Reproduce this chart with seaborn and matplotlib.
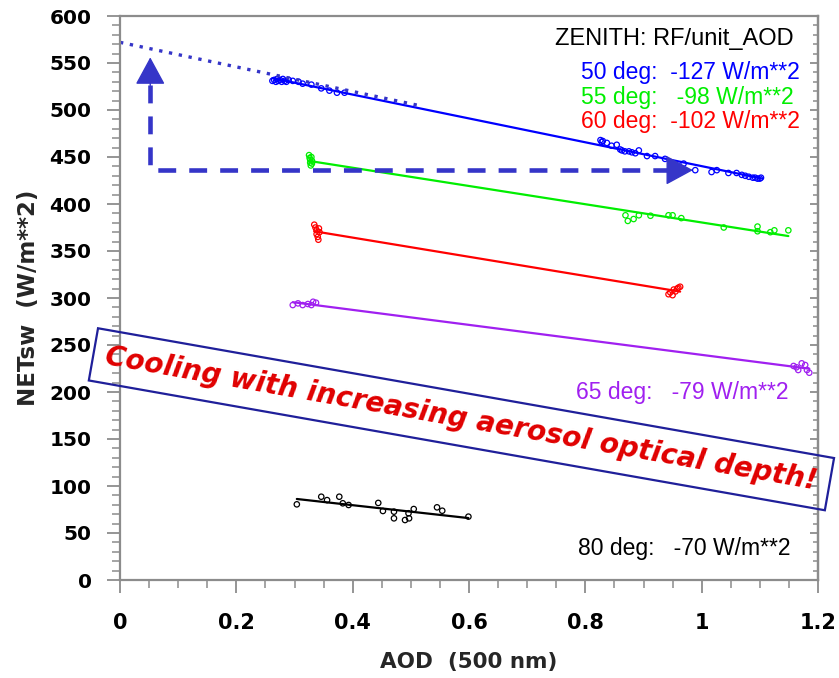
import numpy as np
import matplotlib
matplotlib.use("Agg")
import matplotlib.pyplot as plt
import seaborn as sns
from matplotlib.ticker import MultipleLocator, NullFormatter

# ---------------- data ----------------
blue_x = [0.262, 0.265, 0.268, 0.270, 0.272, 0.275, 0.278, 0.280, 0.283, 0.286, 0.290,
          0.297, 0.307, 0.314, 0.329, 0.346, 0.360, 0.373, 0.386,
          0.826, 0.828, 0.830, 0.837, 0.845, 0.854, 0.860, 0.863, 0.868, 0.875, 0.880,
          0.886, 0.892, 0.906, 0.920, 0.937, 0.969, 0.989, 1.017, 1.026, 1.046, 1.060,
          1.069, 1.075, 1.081, 1.088, 1.092, 1.096, 1.100, 1.102]
blue_y = [531, 532, 530, 533, 531, 532, 530, 533, 531, 530, 532,
          531, 530, 528, 527, 523, 520.6, 518.4, 518.4,
          468, 466, 467, 465, 462, 463, 458, 457, 456, 456, 455,
          454, 457, 451, 451, 448, 443, 436, 434, 436, 433, 433,
          431, 430, 429, 428, 428, 427, 427, 428]

green_x = [0.325, 0.326, 0.327, 0.327, 0.328, 0.329, 0.330, 0.330,
           0.869, 0.873, 0.883, 0.892, 0.912, 0.943, 0.950, 0.965, 1.038,
           1.096, 1.096, 1.118, 1.125, 1.149]
green_y = [452, 449, 447, 444, 441, 450, 446, 443,
           388, 382, 384, 388, 387.5, 388, 388, 385, 375,
           376, 371, 370, 372, 372]

red_x = [0.334, 0.336, 0.338, 0.338, 0.340, 0.341, 0.343, 0.342,
         0.943, 0.946, 0.950, 0.952, 0.955, 0.958, 0.960, 0.963]
red_y = [378, 375, 372, 368, 365, 362, 370, 374,
         304, 306, 303, 309, 307, 310, 311, 312]

purple_x = [0.297, 0.306, 0.314, 0.323, 0.329, 0.332, 0.337,
            1.158, 1.163, 1.172, 1.178, 1.181, 1.185, 1.166]
purple_y = [292.5, 294.3, 292.5, 293.6, 292.5, 296, 295,
            227.7, 226.3, 230.5, 228.7, 223.4, 220.5, 223.4]

black_x = [0.304, 0.346, 0.356, 0.377, 0.383, 0.393, 0.444, 0.452, 0.471, 0.471,
           0.490, 0.496, 0.497, 0.505, 0.545, 0.554, 0.599]
black_y = [80.5, 88.6, 85.0, 88.6, 81.6, 79.8, 82.0, 73.4, 72.7, 65.6,
           63.8, 71.0, 65.6, 75.5, 77.3, 73.7, 67.4]

# extrapolation of the 50 deg fit to AOD = 0
extrap_x = [0.0, 0.52]
extrap_y = [572, 504]

# arrow corner / ends (AOD, NETsw)
arrow_x = [0.052, 0.052, 0.950]
arrow_y = [527, 436, 436]
arrow_tip_up = (0.052, 556)
arrow_tip_right = (0.985, 436)

labels = ["50 deg:  -127 W/m**2", "55 deg:   -98 W/m**2", "60 deg:  -102 W/m**2",
          "65 deg:   -79 W/m**2", "80 deg:   -70 W/m**2"]
label_pos = [(1.168, 540), (1.158, 513), (1.168, 488), (1.150, 199), (1.153, 34)]
colors = ["#0000ff", "#00ee00", "#ff0000", "#a020f0", "#000000"]

x_ticks = [0, 0.2, 0.4, 0.6, 0.8, 1.0, 1.2]
x_ticklabels = ["0", "0.2", "0.4", "0.6", "0.8", "1", "1.2"]

# ---------------- figure ----------------
sns.set_theme(style="ticks")
plt.rcParams["font.family"] = ["Liberation Sans", "DejaVu Sans"]
spine_c = "#8c8c8c"
plt.rcParams.update({
    "xtick.direction": "out", "ytick.direction": "out",
    "xtick.major.size": 9.5, "ytick.major.size": 9.5,
    "xtick.minor.size": 5.5, "ytick.minor.size": 5.5,
    "xtick.major.width": 1.3, "ytick.major.width": 1.3,
    "xtick.minor.width": 1.1, "ytick.minor.width": 1.1,
    "xtick.color": spine_c, "ytick.color": spine_c,
    "xtick.labelcolor": "black", "ytick.labelcolor": "black",
    "xtick.minor.visible": True, "ytick.minor.visible": True,
    "xtick.major.pad": 14, "ytick.major.pad": 11,
    "axes.edgecolor": spine_c, "axes.linewidth": 1.6,
})

W, H = 839, 678
fig = plt.figure(figsize=(W / 100, H / 100), dpi=100)
ax = fig.add_axes([120 / W, 1 - 580 / H, 698 / W, 564 / H])

series = [(blue_x, blue_y), (green_x, green_y), (red_x, red_y),
          (purple_x, purple_y), (black_x, black_y)]
for (xs, ys), c in zip(series, colors):
    sns.regplot(x=np.array(xs), y=np.array(ys), ax=ax, scatter=False, ci=None,
                truncate=True, color=c, line_kws=dict(lw=1.6))
    sns.scatterplot(x=xs, y=ys, ax=ax, s=15, color=c, linewidth=0.9, legend=False)
    coll = ax.collections[-1]
    coll.set_facecolor("none")
    coll.set_edgecolor(c)

arrow_c = "#3535c8"
sns.lineplot(x=extrap_x, y=extrap_y, ax=ax, color=arrow_c, lw=2.4,
             linestyle=(0, (1.0, 2.0)))
ax.plot(arrow_x, arrow_y, color=arrow_c, lw=3.3, linestyle=(0, (3.9, 2.85)),
        solid_joinstyle="miter", dash_joinstyle="miter")
for tip, base in [(arrow_tip_up, (0.052, 526)), (arrow_tip_right, (0.944, 436))]:
    ax.annotate("", xy=tip, xytext=base,
                arrowprops=dict(arrowstyle="-|>,head_length=1.75,head_width=0.95",
                                mutation_scale=10, color=arrow_c, lw=1,
                                shrinkA=0, shrinkB=0))

ax.set_xlim(0, 1.2)
ax.set_ylim(0, 600)
ax.set_xticks(x_ticks, x_ticklabels)
ax.xaxis.set_minor_locator(MultipleLocator(0.05))
ax.yaxis.set_major_locator(MultipleLocator(50))
ax.yaxis.set_minor_locator(MultipleLocator(10))
ax.tick_params(top=False, right=False, which="both")

for lab in ax.get_xticklabels():
    lab.set_fontfamily("DejaVu Sans")
    lab.set_fontweight("bold")
    lab.set_fontsize(15)
for lab in ax.get_yticklabels():
    lab.set_fontfamily("DejaVu Sans")
    lab.set_fontweight("bold")
    lab.set_fontsize(14.5)

sec = ax.secondary_yaxis("right")
sec.yaxis.set_major_locator(MultipleLocator(50))
sec.yaxis.set_minor_locator(MultipleLocator(10))
sec.yaxis.set_major_formatter(NullFormatter())
sec.tick_params(axis="y", which="major", direction="in", length=6, width=1.3, color=spine_c)
sec.tick_params(axis="y", which="minor", direction="in", length=3.5, width=1.1, color=spine_c)
sec.spines["right"].set_color(spine_c)
sec.spines["right"].set_linewidth(1.6)

ax.set_xlabel("AOD  (500 nm)", fontfamily="DejaVu Sans", fontweight="bold", fontsize=15.5)
ax.set_ylabel("NETsw  (W/m**2)", fontfamily="DejaVu Sans", fontweight="bold", fontsize=16.5)
ax.xaxis.set_label_coords(0.5, -0.128)
ax.yaxis.set_label_coords(-0.115, 0.50)

ax.text(1.158, 575.5, "ZENITH: RF/unit_AOD", color="black", fontsize=17,
        ha="right", va="center")
for (lx, ly), txt, c in zip(label_pos, labels, colors):
    ax.text(lx, ly, txt, color=c, fontsize=16.5, ha="right", va="center")

ax.text(0.587, 171, "Cooling with increasing aerosol optical depth!",
        color="#e00000", fontsize=20, fontfamily="DejaVu Sans", fontweight="bold",
        fontstyle="italic", rotation=-10, rotation_mode="anchor",
        ha="center", va="center", clip_on=False, zorder=5,
        bbox=dict(boxstyle="square,pad=0.45", fc="none", ec="#1f1f9a", lw=1.6))

fig.savefig("out.png", dpi=100)
